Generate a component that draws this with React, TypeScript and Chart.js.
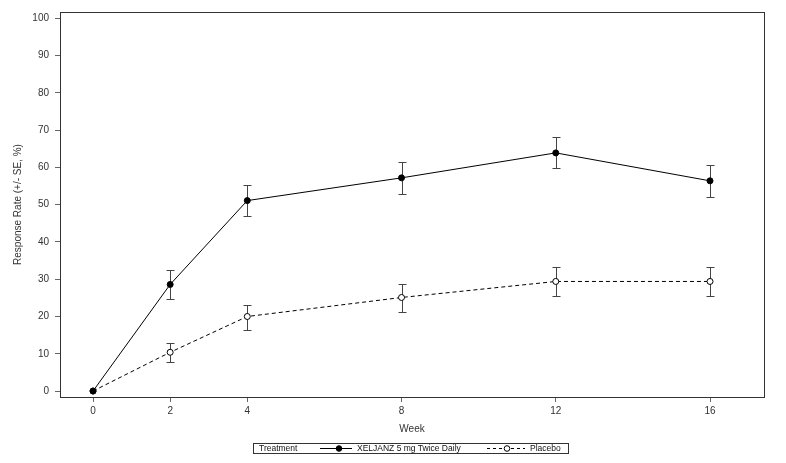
import React, { useEffect, useRef } from "react";
import { Chart, registerables } from "chart.js";

Chart.register(...registerables);

const weeks = [0, 2, 4, 8, 12, 16];
const xTickValues = [0, 2, 4, 8, 12, 16];
const yTickValues = [0, 10, 20, 30, 40, 50, 60, 70, 80, 90, 100];

const xeljanz = [0, 28.6, 51.1, 57.2, 63.9, 56.4];
const xeljanzLow = [0, 24.7, 46.9, 52.9, 59.9, 52.1];
const xeljanzHigh = [0, 32.4, 55.3, 61.4, 68.1, 60.7];

const placebo = [0, 10.4, 20.0, 25.1, 29.4, 29.4];
const placeboLow = [0, 7.8, 16.5, 21.2, 25.6, 25.5];
const placeboHigh = [0, 12.9, 23.2, 28.6, 33.2, 33.2];

const FONT = "'Liberation Sans', Arial, sans-serif";

const errorBarPlugin = {
  id: "errorBars",
  beforeDatasetsDraw(chart: any) {
    const ctx = chart.ctx;
    const x = chart.scales.x;
    const y = chart.scales.y;
    const sets = [
      { lo: xeljanzLow, hi: xeljanzHigh },
      { lo: placeboLow, hi: placeboHigh },
    ];
    ctx.save();
    ctx.strokeStyle = "#444";
    ctx.lineWidth = 1;
    sets.forEach((s) => {
      weeks.forEach((w, i) => {
        if (s.hi[i] === s.lo[i]) return;
        const px = Math.round(x.getPixelForValue(w)) + 0.5;
        const pLo = Math.round(y.getPixelForValue(s.lo[i])) + 0.5;
        const pHi = Math.round(y.getPixelForValue(s.hi[i])) + 0.5;
        ctx.beginPath();
        ctx.moveTo(px, pLo);
        ctx.lineTo(px, pHi);
        ctx.moveTo(px - 4, pLo);
        ctx.lineTo(px + 4, pLo);
        ctx.moveTo(px - 4, pHi);
        ctx.lineTo(px + 4, pHi);
        ctx.stroke();
      });
    });
    ctx.restore();
  },
  afterDraw(chart: any) {
    const { left, top, right, bottom } = chart.chartArea;
    const ctx = chart.ctx;
    ctx.save();
    ctx.strokeStyle = "#333";
    ctx.lineWidth = 1;
    ctx.strokeRect(Math.round(left) + 0.5, Math.round(top) + 0.5, Math.round(right - left), Math.round(bottom - top));
    ctx.restore();
  },
};

function LegendSample({ dashed, width, cx }: { dashed: boolean; width: number; cx: number }) {
  return (
    <svg width={width} height={9} style={{ display: "block" }}>
      <line x1={0} y1={4.5} x2={width} y2={4.5} stroke="#000" strokeWidth={1} strokeDasharray={dashed ? "3 3" : undefined} />
      <circle cx={cx} cy={4.5} r={2.8} fill={dashed ? "#fff" : "#000"} stroke="#000" strokeWidth={1} />
    </svg>
  );
}

export default function App() {
  const ref = useRef<HTMLCanvasElement | null>(null);

  useEffect(() => {
    if (!ref.current) return;
    const chart = new Chart(ref.current, {
      type: "line",
      data: {
        datasets: [
          {
            label: "XELJANZ 5 mg Twice Daily",
            data: weeks.map((w, i) => ({ x: w, y: xeljanz[i] })),
            borderColor: "#000",
            borderWidth: 1,
            pointRadius: 3,
            pointBackgroundColor: "#000",
            pointBorderColor: "#000",
            pointBorderWidth: 1,
            tension: 0,
          },
          {
            label: "Placebo",
            data: weeks.map((w, i) => ({ x: w, y: placebo[i] })),
            borderColor: "#000",
            borderWidth: 1,
            borderDash: [4, 3],
            pointRadius: 3,
            pointBackgroundColor: "#fff",
            pointBorderColor: "#000",
            pointBorderWidth: 1,
            tension: 0,
          },
        ],
      },
      options: {
        animation: false,
        responsive: false,
        maintainAspectRatio: false,
        layout: { padding: { top: 9, right: 22, left: 0, bottom: 0 } },
        plugins: { legend: { display: false }, tooltip: { enabled: false } },
        scales: {
          x: {
            type: "linear",
            min: -0.857,
            max: 17.4,
            afterBuildTicks: (s: any) => {
              s.ticks = xTickValues.map((v) => ({ value: v }));
            },
            afterFit: (s: any) => {
              s.height = 66;
            },
            border: { display: false },
            grid: { drawOnChartArea: false, drawTicks: true, tickLength: 5, color: "#666" },
            ticks: { color: "#333", font: { family: FONT, size: 10 }, padding: 3, maxRotation: 0, autoSkip: false },
            title: { display: true, text: "Week", color: "#333", font: { family: FONT, size: 10 }, padding: { top: 0, bottom: 28 } },
          },
          y: {
            type: "linear",
            min: -1.6,
            max: 101.7,
            afterBuildTicks: (s: any) => {
              s.ticks = yTickValues.map((v) => ({ value: v }));
            },
            afterFit: (s: any) => {
              s.width = 60;
            },
            border: { display: false },
            grid: { drawOnChartArea: false, drawTicks: true, tickLength: 5, color: "#666" },
            ticks: { color: "#333", font: { family: FONT, size: 10 }, padding: 6 },
            title: { display: true, text: "Response Rate (+/- SE, %)", color: "#333", font: { family: FONT, size: 10 }, padding: { top: 12, bottom: 0 } },
          },
        },
      },
      plugins: [errorBarPlugin],
    } as any);
    return () => chart.destroy();
  }, []);

  const textStyle: React.CSSProperties = { fontFamily: FONT, fontSize: "8.5px", color: "#111", whiteSpace: "nowrap", lineHeight: "9px" };

  return (
    <div style={{ position: "absolute", left: 0, top: 0, width: 786, height: 463, background: "#fff" }}>
      <canvas ref={ref} width={786} height={463} style={{ display: "block", width: 786, height: 463 }} />
      <div
        style={{
          position: "absolute",
          left: 253,
          top: 443,
          width: 314,
          height: 9,
          border: "1px solid #333",
          display: "flex",
          alignItems: "center",
        }}
      >
        <span style={{ ...textStyle, position: "absolute", left: 5 }}>Treatment</span>
        <span style={{ position: "absolute", left: 66, top: 0 }}>
          <LegendSample dashed={false} width={32} cx={19} />
        </span>
        <span style={{ ...textStyle, position: "absolute", left: 103 }}>XELJANZ 5 mg Twice Daily</span>
        <span style={{ position: "absolute", left: 233, top: 0 }}>
          <LegendSample dashed={true} width={38} cx={20} />
        </span>
        <span style={{ ...textStyle, position: "absolute", left: 276 }}>Placebo</span>
      </div>
    </div>
  );
}
